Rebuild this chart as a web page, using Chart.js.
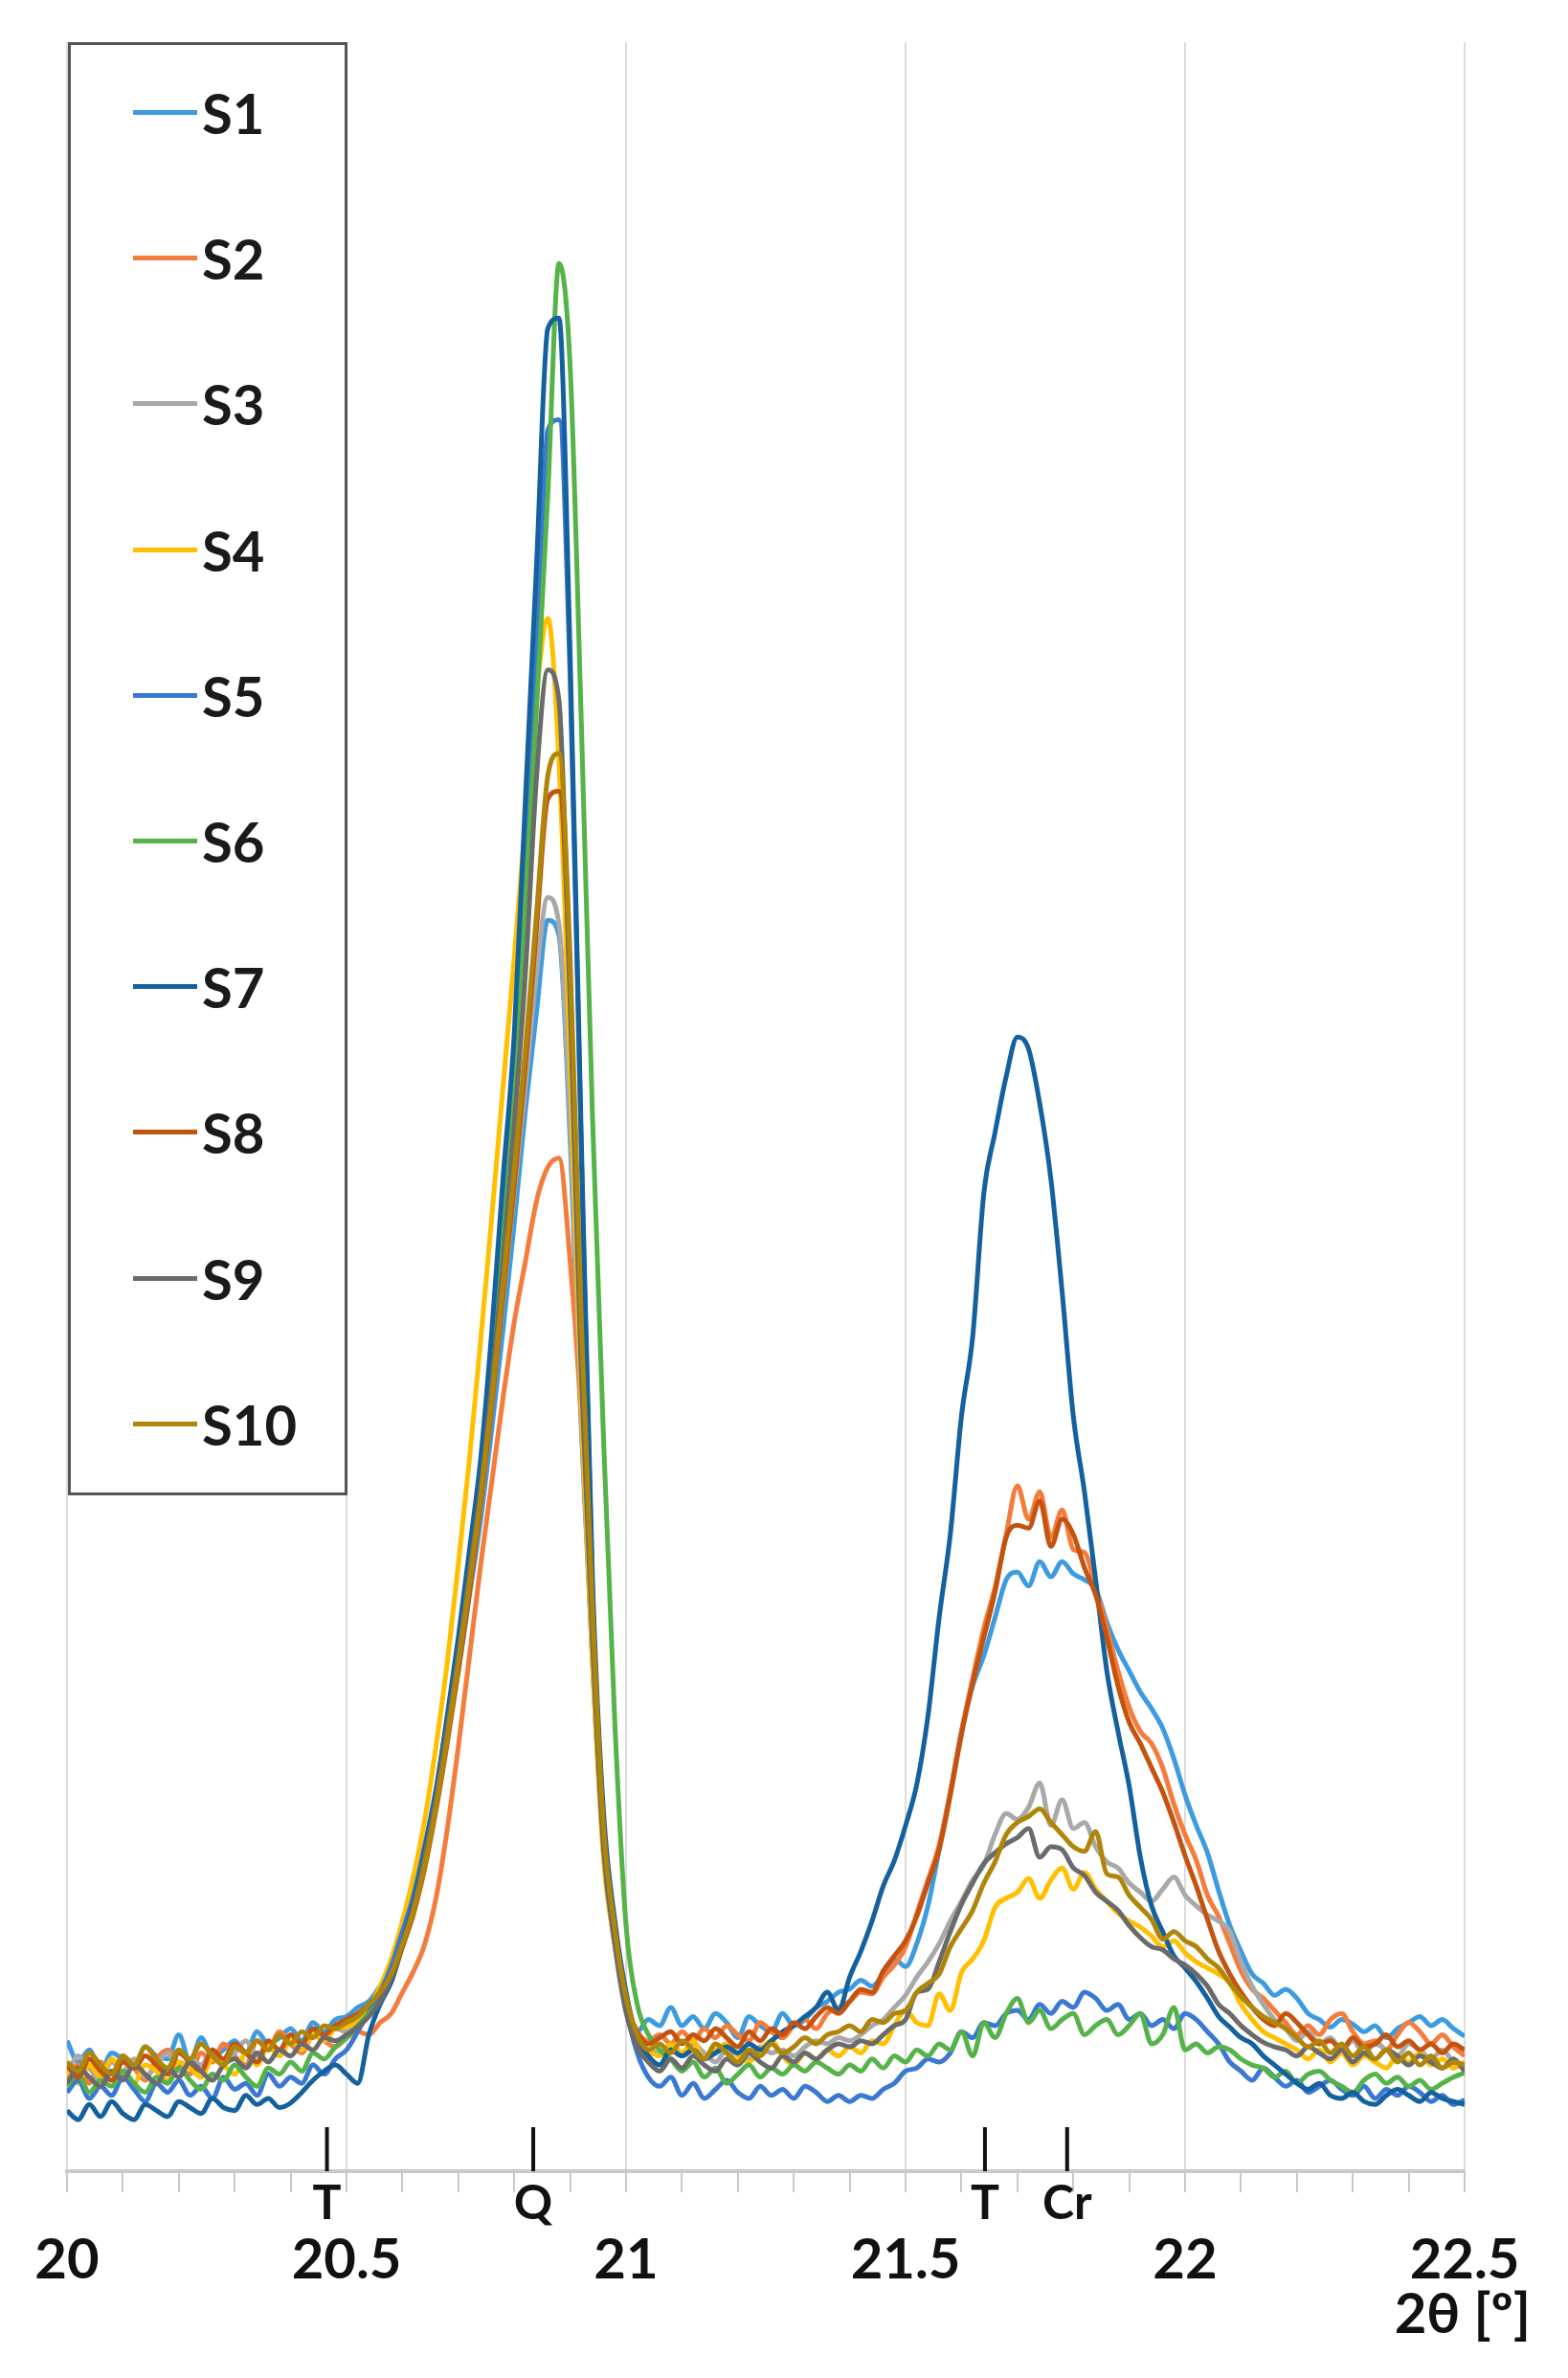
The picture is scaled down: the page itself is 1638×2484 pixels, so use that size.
<!DOCTYPE html>
<html>
<head>
<meta charset="utf-8">
<title>2θ scan 20–22.5</title>
<script src="https://cdn.jsdelivr.net/npm/chart.js@4.4.0/dist/chart.umd.min.js"></script>
<style>
  body { margin: 0; background: #fff; }
  #wrap { position: relative; width: 1638px; height: 2484px; }
  #legend {
    position: absolute; left: 71px; top: 44px;
    width: 286px; height: 1512px;
    border: 3px solid #555; background: #fff;
  }
  .item { position: absolute; left: 0; height: 70px; width: 280px; }
  .item .ln { position: absolute; left: 65px; top: 32px; width: 67px; height: 5px; }
  .item .tx {
    position: absolute; left: 137px; top: 0; line-height: 70px;
    font: bold 58px Lato, sans-serif; color: #1a1a1a;
  }
</style>
</head>
<body>
<div id="wrap">
  <canvas id="myChart" width="1638" height="2484"></canvas>
  <div id="legend"></div>
</div>
<script>
// 2theta positions (deg)
var twoTheta = [
  20.00, 20.02, 20.04, 20.06, 20.08, 20.10, 20.12, 20.14, 20.16, 20.18,
  20.20, 20.22, 20.24, 20.26, 20.28, 20.30, 20.32, 20.34, 20.36, 20.38,
  20.40, 20.42, 20.44, 20.46, 20.48, 20.50, 20.52, 20.54, 20.56, 20.58,
  20.60, 20.62, 20.64, 20.66, 20.68, 20.70, 20.72, 20.74, 20.76, 20.78,
  20.80, 20.82, 20.84, 20.86, 20.88, 20.90, 20.92, 20.94, 20.96, 20.98,
  21.00, 21.02, 21.04, 21.06, 21.08, 21.10, 21.12, 21.14, 21.16, 21.18,
  21.20, 21.22, 21.24, 21.26, 21.28, 21.30, 21.32, 21.34, 21.36, 21.38,
  21.40, 21.42, 21.44, 21.46, 21.48, 21.50, 21.52, 21.54, 21.56, 21.58,
  21.60, 21.62, 21.64, 21.66, 21.68, 21.70, 21.72, 21.74, 21.76, 21.78,
  21.80, 21.82, 21.84, 21.86, 21.88, 21.90, 21.92, 21.94, 21.96, 21.98,
  22.00, 22.02, 22.04, 22.06, 22.08, 22.10, 22.12, 22.14, 22.16, 22.18,
  22.20, 22.22, 22.24, 22.26, 22.28, 22.30, 22.32, 22.34, 22.36, 22.38,
  22.40, 22.42, 22.44, 22.46, 22.48, 22.50
];

var sampleNames = ["S1", "S2", "S3", "S4", "S5", "S6", "S7", "S8", "S9", "S10"];
var sampleColors = ["#3d9be0", "#f47c3c", "#a9a9a9", "#ffc000", "#3a78d2",
                    "#55b34a", "#14619e", "#c4530f", "#6b6b6b", "#b0860a"];

// intensities (arbitrary units), rows: 20.00-20.48 | 20.50-21.06 | 21.08-21.38 | 21.40-22.00 | 22.02-22.50
var s1 = [
  86, 72, 80, 66, 78, 74, 70, 82, 76, 74, 90, 72, 88, 76, 80, 86, 78, 92, 84, 88, 94, 86, 98, 92, 100,
  102, 108, 112, 122, 132, 150, 172, 205, 245, 290, 330, 380, 430, 490, 555, 625, 700, 765, 825, 815, 680, 490, 335, 210, 150, 110, 92, 100, 96,
  108, 96, 102, 94, 104, 98, 88, 102, 96, 92, 104, 96, 100, 108, 112, 118,
  120, 126, 122, 130, 140, 135, 150, 175, 212, 250, 290, 320, 340, 365, 390, 395, 386, 402, 392, 402, 394, 390, 384, 362, 344, 330, 316, 305, 292, 272, 248,
  228, 210, 185, 162, 145, 130, 124, 116, 120, 114, 104, 100, 95, 100, 97, 92, 96, 88, 94, 98, 102, 96, 100, 94, 89
];
var s2 = [
  62, 70, 58, 72, 64, 76, 68, 60, 74, 80, 70, 64, 78, 72, 84, 76, 70, 86, 80, 92, 84, 78, 90, 86, 82,
  88, 92, 90, 98, 104, 118, 132, 150, 180, 225, 280, 340, 400, 455, 510, 560, 600, 640, 662, 668, 600, 495, 338, 215, 152, 110, 92, 86, 90,
  84, 92, 86, 94, 88, 96, 90, 86, 98, 92, 88, 96, 100, 94, 104, 108,
  112, 118, 117, 128, 136, 148, 170, 192, 215, 250, 290, 325, 358, 385, 420, 452, 430, 448, 418, 436, 410, 408, 385, 358, 330, 306, 290, 282, 266, 242, 222,
  205, 182, 168, 150, 132, 120, 114, 106, 98, 90, 96, 90, 100, 104, 92, 84, 86, 80, 90, 98, 92, 84, 90, 82, 76
];
var s3 = [
  64, 76, 68, 60, 72, 66, 74, 62, 70, 78, 66, 74, 70, 80, 72, 78, 86, 76, 84, 80, 90, 84, 92, 88, 94,
  92, 98, 104, 114, 126, 148, 172, 204, 242, 286, 332, 385, 440, 505, 575, 645, 715, 790, 840, 822, 690, 500, 340, 210, 148, 105, 86, 80, 78,
  82, 76, 84, 78, 72, 80, 76, 74, 82, 78, 80, 76, 82, 86, 84, 88,
  86, 90, 96, 100, 108, 116, 128, 138, 150, 165, 178, 192, 202, 222, 236, 232, 240, 256, 228, 245, 226, 230, 214, 204, 200, 190, 184, 178, 186, 194, 182,
  175, 169, 165, 158, 138, 122, 110, 100, 94, 86, 92, 84, 88, 80, 86, 78, 84, 80, 76, 84, 80, 74, 80, 72, 68
];
var s4 = [
  66, 58, 70, 62, 74, 64, 58, 70, 66, 60, 72, 68, 62, 74, 70, 64, 78, 70, 82, 76, 86, 80, 90, 86, 94,
  95, 100, 108, 122, 140, 165, 195, 232, 280, 335, 400, 470, 548, 630, 715, 800, 890, 975, 1024, 930, 730, 505, 335, 205, 150, 110, 90, 80, 76,
  84, 78, 86, 74, 80, 84, 76, 72, 80, 86, 76, 70, 78, 74, 80, 76,
  82, 78, 86, 84, 96, 106, 98, 96, 117, 106, 131, 140, 152, 174, 180, 184, 193, 180, 192, 200, 186, 197, 186, 178, 170, 165, 161, 155, 148, 152, 144,
  138, 134, 130, 124, 110, 100, 92, 88, 84, 80, 74, 80, 72, 78, 70, 76, 72, 68, 76, 72, 78, 70, 74, 68, 72
];
var s5 = [
  52, 60, 48, 56, 50, 62, 54, 46, 58, 52, 60, 50, 56, 48, 62, 54, 58, 50, 64, 56, 62, 58, 70, 64, 74,
  80, 92, 105, 118, 135, 158, 182, 215, 252, 298, 348, 402, 462, 540, 630, 725, 860, 1000, 1148, 1155, 985, 670, 380, 222, 155, 108, 78, 62, 56,
  62, 50, 58, 48, 54, 60, 52, 48, 56, 50, 54, 48, 56, 52, 46, 50,
  46, 50, 48, 54, 58, 66, 68, 74, 72, 78, 92, 88, 98, 96, 104, 106, 100, 110, 104, 112, 108, 118, 114, 106, 110, 100, 104, 96, 100, 94, 104,
  100, 92, 84, 72, 66, 60, 68, 62, 56, 60, 52, 56, 60, 54, 50, 56, 48, 54, 50, 56, 52, 46, 50, 44, 47
];
var s6 = [
  56, 64, 52, 60, 56, 66, 58, 52, 62, 58, 68, 60, 54, 64, 60, 70, 62, 56, 68, 64, 72, 66, 78, 74, 82,
  88, 96, 104, 112, 125, 148, 172, 205, 245, 292, 340, 395, 455, 530, 615, 710, 840, 965, 1105, 1258, 1190, 955, 695, 480, 295, 162, 110, 90, 80,
  74, 66, 72, 62, 68, 58, 64, 70, 62, 68, 64, 70, 66, 72, 68, 64,
  70, 66, 74, 68, 76, 72, 80, 76, 84, 80, 92, 76, 98, 88, 104, 114, 98, 106, 94, 100, 104, 90, 96, 100, 90, 96, 104, 84, 90, 108, 80,
  84, 78, 82, 80, 74, 70, 68, 62, 66, 58, 64, 66, 60, 56, 52, 60, 64, 58, 62, 56, 60, 54, 58, 62, 65
];
var s7 = [
  40, 34, 44, 36, 46, 38, 34, 44, 40, 36, 46, 42, 38, 48, 42, 40, 50, 44, 48, 42, 45, 52, 60, 66, 70,
  64, 58, 90, 110, 125, 150, 178, 212, 250, 300, 352, 410, 470, 555, 655, 750, 905, 1060, 1215, 1222, 1000, 680, 390, 235, 165, 118, 88, 76, 70,
  80, 76, 80, 74, 78, 82, 78, 84, 80, 86, 92, 96, 102, 108, 118, 106,
  128, 145, 165, 188, 205, 228, 255, 300, 365, 420, 498, 550, 645, 685, 722, 748, 740, 704, 654, 580, 498, 448, 390, 330, 290, 254, 207, 175, 158, 142, 134,
  125, 114, 102, 95, 88, 84, 76, 70, 64, 58, 54, 58, 50, 48, 52, 46, 44, 50, 54, 50, 46, 52, 48, 46, 44
];
var s8 = [
  70, 62, 74, 66, 60, 72, 68, 76, 70, 64, 78, 72, 66, 80, 74, 84, 78, 72, 86, 80, 90, 84, 94, 90, 96,
  100, 104, 110, 118, 128, 148, 170, 200, 238, 282, 330, 382, 440, 505, 578, 650, 730, 820, 905, 910, 785, 550, 365, 225, 158, 112, 92, 84, 88,
  92, 84, 90, 86, 94, 88, 82, 92, 86, 94, 90, 98, 94, 102, 108, 104,
  112, 120, 118, 132, 142, 152, 168, 190, 212, 248, 288, 322, 352, 382, 418, 426, 424, 442, 412, 430, 420, 398, 380, 352, 320, 296, 282, 266, 250, 230, 208,
  188, 166, 145, 130, 118, 108, 100, 96, 104, 98, 90, 84, 86, 80, 88, 82, 84, 90, 82, 86, 80, 84, 78, 84, 80
];
var s9 = [
  58, 68, 62, 56, 66, 60, 70, 64, 58, 68, 62, 72, 66, 60, 70, 74, 68, 78, 72, 80, 76, 84, 80, 88, 86,
  90, 95, 102, 112, 128, 150, 175, 208, 246, 292, 340, 395, 450, 520, 600, 690, 790, 920, 990, 970, 770, 525, 350, 212, 150, 105, 82, 72, 66,
  74, 68, 76, 70, 66, 74, 70, 78, 72, 68, 76, 72, 78, 74, 80, 84,
  82, 86, 84, 90, 96, 100, 118, 120, 138, 158, 176, 190, 203, 210, 216, 220, 226, 207, 214, 212, 200, 195, 184, 178, 172, 162, 154, 148, 146, 140, 136,
  130, 122, 110, 104, 96, 90, 85, 82, 80, 76, 82, 78, 74, 80, 72, 78, 74, 80, 76, 70, 76, 72, 68, 74, 66
];
var s10 = [
  72, 66, 78, 70, 64, 76, 70, 82, 74, 68, 80, 74, 84, 76, 70, 82, 78, 86, 80, 90, 84, 92, 88, 96, 94,
  98, 102, 110, 118, 130, 150, 172, 202, 240, 285, 335, 388, 445, 510, 585, 660, 740, 830, 920, 935, 800, 560, 370, 225, 160, 115, 90, 80, 84,
  78, 86, 80, 74, 84, 78, 72, 80, 76, 84, 78, 82, 88, 84, 90, 92,
  96, 92, 100, 98, 104, 106, 118, 124, 130, 148, 160, 172, 190, 204, 222, 230, 234, 239, 230, 222, 214, 211, 224, 196, 194, 182, 174, 166, 153, 158, 152,
  148, 140, 134, 124, 115, 108, 102, 98, 94, 88, 82, 86, 78, 84, 76, 82, 74, 80, 72, 78, 70, 76, 68, 72, 70
];

var tickLabels = ["20", "20.5", "21", "21.5", "22", "22.5"];
var markerPos = [20.465, 20.834, 21.642, 21.789];
var markerText = ["T", "Q", "T", "Cr"];
var axisTitle = "2θ [º]";

function toPoints(ys) {
  var pts = [];
  for (var i = 0; i < ys.length; i++) {
    pts.push({ x: twoTheta[i], y: ys[i] });
  }
  return pts;
}

function isMajor(v) {
  return Math.round(v * 10) % 5 === 0;
}

// phase markers + axis title under the plot
var markers = {
  id: "markers",
  afterDraw: function(chart) {
    var ctx = chart.ctx;
    var xs = chart.scales.x;
    var bottom = chart.chartArea.bottom;
    ctx.save();
    ctx.strokeStyle = "#111";
    ctx.lineWidth = 4;
    ctx.fillStyle = "#111";
    ctx.font = "bold 50px Lato";
    ctx.textAlign = "center";
    ctx.textBaseline = "middle";
    for (var i = 0; i < markerPos.length; i++) {
      var px = xs.getPixelForValue(markerPos[i]);
      ctx.beginPath();
      ctx.moveTo(px, bottom - 46);
      ctx.lineTo(px, bottom);
      ctx.stroke();
      ctx.fillText(markerText[i], px, bottom + 34);
    }
    ctx.font = "bold 58px Lato";
    ctx.textAlign = "right";
    ctx.fillText(axisTitle, 1599, 2418);
    ctx.restore();
  }
};

var datasets = [];
var series = [s1, s2, s3, s4, s5, s6, s7, s8, s9, s10];
for (var i = 0; i < series.length; i++) {
  datasets.push({
    label: sampleNames[i],
    data: toPoints(series[i]),
    borderColor: sampleColors[i],
    backgroundColor: sampleColors[i],
    borderWidth: 5,
    pointRadius: 0,
    cubicInterpolationMode: "monotone",
    fill: false,
    order: series.length - i
  });
}

var ctx = document.getElementById("myChart");
var chart = new Chart(ctx, {
  type: "line",
  data: { datasets: datasets },
  plugins: [markers],
  options: {
    responsive: false,
    animation: false,
    layout: { padding: { left: 70, right: 108, top: 44, bottom: 0 } },
    plugins: { legend: { display: false }, tooltip: { enabled: false } },
    scales: {
      x: {
        type: "linear",
        min: 20,
        max: 22.5,
        afterFit: function(scale) { scale.height = 216; },
        border: { color: "#c9c9c9", width: 4 },
        grid: {
          color: function(c) {
            return c.tick && isMajor(c.tick.value) ? "#dcdcdc" : "rgba(0,0,0,0)";
          },
          lineWidth: 2,
          tickColor: "#c9c9c9",
          tickWidth: 2,
          tickLength: 22
        },
        ticks: {
          stepSize: 0.1,
          autoSkip: false,
          maxRotation: 0,
          padding: 36,
          color: "#111",
          font: { family: "Lato", size: 58, weight: "bold" },
          callback: function(v) {
            if (!isMajor(v)) return "";
            return tickLabels[Math.round((v - 20) * 2)];
          }
        }
      },
      y: { display: false, min: 0, max: 1404 }
    }
  }
});

// legend box
var leg = document.getElementById("legend");
for (var k = 0; k < sampleNames.length; k++) {
  var it = document.createElement("div");
  it.className = "item";
  it.style.top = (36 + k * 152.2) + "px";
  it.innerHTML = '<div class="ln" style="background:' + sampleColors[k] + '"></div><span class="tx">' + sampleNames[k] + "</span>";
  leg.appendChild(it);
}
</script>
</body>
</html>
